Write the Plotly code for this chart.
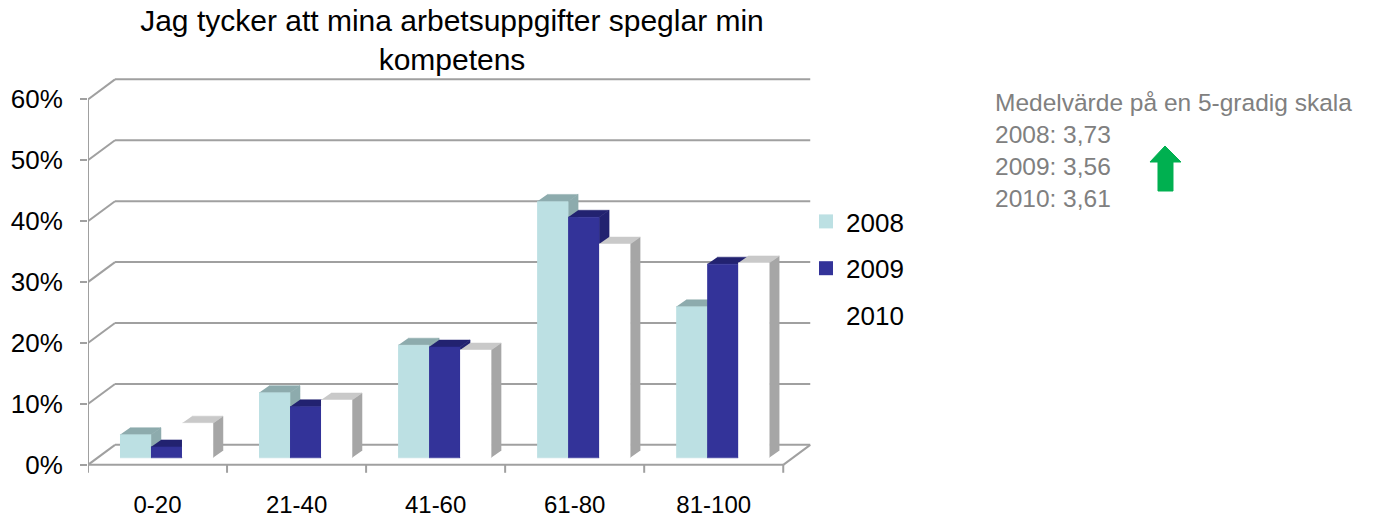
import plotly.graph_objects as go

# ---------------- data ----------------
categories = ["0-20", "21-40", "41-60", "61-80", "81-100"]
years = ["2008", "2009", "2010"]
v2008 = [3.8, 10.7, 18.5, 42.1, 24.8]
v2009 = [1.8, 8.4, 18.2, 39.5, 31.8]
v2010 = [5.7, 9.5, 17.7, 35.1, 32.0]
grid_vals = [0, 10, 20, 30, 40, 50, 60]
tick_text = ["0%", "10%", "20%", "30%", "40%", "50%", "60%"]
title_text = "Jag tycker att mina arbetsuppgifter speglar min<br>kompetens"
note_lines = ["Medelvärde på en 5-gradig skala", "2008: 3,73", "2009: 3,56", "2010: 3,61"]

# ---------------- style ----------------
OFF = 8                                   # page (body) margin of the browser
W, H = 1385 - OFF, 519 - OFF
ML, MT = 88 - OFF, 75 - OFF
PW, PH = 730, 399
MR, MB = W - ML - PW, H - MT - PH
XR = [-0.5, 4.75]
YR = [-1.5, 64]
XU = PW / (XR[1] - XR[0])                 # px per x unit
YU = PH / (YR[1] - YR[0])                 # px per y unit
DX, DY = 27 / XU, 20 / YU                 # wall depth
ddx, ddy = 10 / XU, 7 / YU                # bar depth
B0 = 7 / YU                               # bar base (mid depth)
BW = 31 / XU                              # bar width
G0 = -0.27                                # first bar offset from category centre
FONT = "Liberation Sans, Arial, sans-serif"
GRID = "#A0A0A0"

series = [
    (v2008, "#BCE0E3", "#8DABAD", "#8DABAD"),
    (v2009, "#333399", "#222270", "#222270"),
    (v2010, "#FFFFFF", "#C9C9C9", "#A6A6A6"),
]

fig = go.Figure()

# ---- 3D frame: back wall gridlines, left wall diagonals, floor ----
gx, gy = [], []
for g in grid_vals:
    gx += [XR[0] + DX, len(categories) - 0.5 + DX, None]
    gy += [g + DY, g + DY, None]
    gx += [XR[0], XR[0] + DX, None]
    gy += [g, g + DY, None]
gx += [XR[0], XR[0], None]
gy += [0, grid_vals[-1], None]
gx += [XR[0], len(categories) - 0.5, None]
gy += [0, 0, None]
gx += [len(categories) - 0.5, len(categories) - 0.5 + DX, None]
gy += [0, DY, None]
for k in range(len(categories) + 1):
    gx += [XR[0] + k, XR[0] + k, None]
    gy += [0, -1.3, None]
fig.add_trace(go.Scatter(x=gx, y=gy, mode="lines", line=dict(color=GRID, width=2),
                         showlegend=False, hoverinfo="skip", cliponaxis=False))

# ---- bars (front, top and side faces) ----
for si, (vals, cf, ct, cs) in enumerate(series):
    sx, sy, tx, ty, fx, fy = [], [], [], [], [], []
    for c, v in enumerate(vals):
        xl = c + G0 + si * BW
        xr = xl + BW
        sx += [xr, xr, xr + ddx, xr + ddx, None]
        sy += [B0, B0 + v, B0 + v + ddy, B0 + ddy, None]
        tx += [xl, xr, xr + ddx, xl + ddx, None]
        ty += [B0 + v, B0 + v, B0 + v + ddy, B0 + v + ddy, None]
        fx += [xl, xr, xr, xl, None]
        fy += [B0, B0, B0 + v, B0 + v, None]
    for xs, ys, col in ((sx, sy, cs), (tx, ty, ct), (fx, fy, cf)):
        fig.add_trace(go.Scatter(x=xs, y=ys, mode="lines", fill="toself", fillcolor=col,
                                 line=dict(color=col, width=0.5),
                                 showlegend=False, hoverinfo="skip"))

# ---- legend entries ----
for yr, (vals, cf, ct, cs) in zip(years, series):
    fig.add_trace(go.Scatter(x=[None], y=[None], mode="markers", name=yr, legendgroup=yr,
                             marker=dict(symbol="square", size=14, color=cf,
                                         line=dict(width=0))))

# reference-pixel -> paper coordinates
def px2x(px):
    return (px - OFF - ML) / PW

def px2y(py):
    return (H - MB - (py - OFF)) / PH

# green arrow
pts = [(1165, 146), (1181, 162), (1173, 162), (1173, 191), (1158, 191), (1158, 162), (1150, 162)]
path = "M " + " L ".join(f"{px2x(a):.5f},{px2y(b):.5f}" for a, b in pts) + " Z"
fig.add_shape(type="path", path=path, xref="paper", yref="paper",
              fillcolor="#00B050", line=dict(color="#00B050", width=1))

fig.add_annotation(text="<br>".join(note_lines), xref="paper", yref="paper",
                   x=px2x(993), y=px2y(87), xanchor="left", yanchor="top", align="left",
                   showarrow=False, font=dict(family=FONT, size=24.5, color="#808080"))

fig.update_layout(
    width=W, height=H,
    margin=dict(l=ML, r=MR, t=MT, b=MB, autoexpand=False),
    paper_bgcolor="white", plot_bgcolor="white",
    title=dict(text=title_text, x=(452 - OFF) / W, xanchor="center",
               y=1 - (31 - OFF) / H, yanchor="middle",
               font=dict(family=FONT, size=30, color="#000000")),
    xaxis=dict(range=XR, tickvals=list(range(len(categories))), ticktext=categories,
               showgrid=False, zeroline=False, showline=False, ticks="",
               ticklabelstandoff=14, automargin=False,
               tickfont=dict(family=FONT, size=24, color="#000000")),
    yaxis=dict(range=YR, tickvals=grid_vals, ticktext=tick_text,
               showgrid=False, zeroline=False, showline=False,
               ticks="outside", ticklen=7, tickwidth=2, tickcolor=GRID,
               ticklabelstandoff=12, automargin=False,
               tickfont=dict(family=FONT, size=26, color="#000000")),
    legend=dict(x=px2x(806), y=px2y(198), xanchor="left", yanchor="top",
                font=dict(family=FONT, size=26, color="#000000"),
                tracegroupgap=10, bgcolor="rgba(0,0,0,0)"),
    showlegend=True,
)

fig.write_html("out.html")
